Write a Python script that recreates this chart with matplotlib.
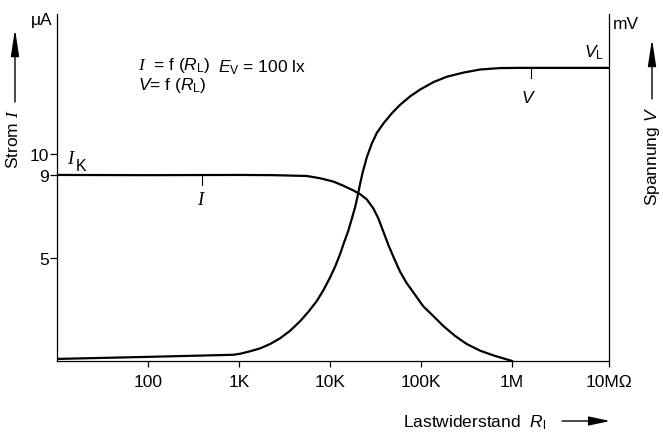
import matplotlib
matplotlib.use("Agg")
import matplotlib.pyplot as plt
from matplotlib import font_manager
from matplotlib.patches import FancyArrowPatch
from matplotlib.ticker import NullLocator
import numpy as np

# Strom I (uA) und Spannung V ueber dem Lastwiderstand R_L (Ohm), E_V = 100 lx
rCurrent = [10, 100, 1026, 2382, 3631, 5546, 7762, 10860, 14000, 18030, 21380,
            25290, 29920, 33960, 38550, 43750, 49660, 58750, 69660, 85900,
            105900, 136500, 175800, 236600, 317700, 444600, 623700, 950600, 1000000]
current = [9.00, 8.99, 9.00, 8.99, 8.97, 8.95, 8.84, 8.68, 8.48, 8.25, 8.07,
           7.82, 7.38, 6.89, 6.25, 5.61, 5.04, 4.32, 3.76, 3.20,
           2.64, 2.17, 1.69, 1.21, 0.82, 0.50, 0.27, 0.03, 0.0]

rVoltage = [10, 100, 859, 1026, 1321, 1702, 2193, 2825, 3631, 4677, 5781, 7145,
            8433, 10000, 11350, 12880, 14260, 15890, 17300, 18840, 19950, 21380,
            22860, 24270, 25290, 28710, 32580, 38550, 47640, 58750, 75680, 97500,
            136500, 191400, 291700, 444600, 738000, 1225000, 11600000]
voltage = [0.10, 0.20, 0.30, 0.35, 0.47, 0.61, 0.82, 1.10, 1.46, 1.92, 2.38, 2.90,
           3.42, 4.04, 4.56, 5.17, 5.74, 6.31, 6.87, 7.44, 7.92, 8.57,
           9.14, 9.55, 9.85, 10.51, 11.03, 11.49, 11.98, 12.39, 12.80, 13.13,
           13.49, 13.75, 13.95, 14.10, 14.17, 14.18, 14.18]

xTicks = [100, 1000, 10000, 100000, 1000000, 11600000]
xTickLabels = ["100", "1K", "10K", "100K", "1M", "10MΩ"]
yTicks = [5, 9, 10]
yTickLabels = ["5", "9", "10"]

W, H = 663, 435


def pickFont(names):
	for n in names:
		try:
			font_manager.findfont(font_manager.FontProperties(family=n), fallback_to_default=False)
			return n
		except ValueError:
			pass
	return "DejaVu Sans"


def px(x, y):
	# pixel position (from top left) -> figure fraction
	return (x / W, 1 - y / H)


fam = pickFont(["Liberation Sans Narrow", "Liberation Sans"])
fs = 13 if fam == "Liberation Sans Narrow" else 12.5
plt.rcParams['font.family'] = [fam, 'DejaVu Sans']
plt.rcParams['mathtext.fontset'] = 'custom'
plt.rcParams['mathtext.rm'] = fam
plt.rcParams['mathtext.it'] = fam + ':italic'
plt.rcParams['mathtext.cal'] = 'Liberation Serif:italic'

fig = plt.figure(figsize=(W / 100, H / 100), dpi=100)
ax = fig.add_axes([57 / W, (H - 362) / H, (609 - 57) / W, (362 - 14.7) / H])
ax.set_xscale('log')
ax.set_xlim(10, 11600000)
ax.set_ylim(0, 16.8)
ax.xaxis.set_minor_locator(NullLocator())
ax.set_xticks(xTicks)
ax.set_xticklabels(xTickLabels)
ax.set_yticks(yTicks)
ax.set_yticklabels(yTickLabels)
ax.tick_params(axis='x', direction='out', length=4.5, width=0.9, pad=5, labelsize=fs)
ax.tick_params(axis='y', direction='out', length=5, width=0.9, pad=1.0, labelsize=fs)
for s in ['top', 'right']:
	ax.spines[s].set_visible(False)
for s in ['left', 'bottom']:
	ax.spines[s].set_linewidth(0.9)

ax.plot(rCurrent, current, color='black', lw=1.6)

ax2 = ax.twinx()
ax2.set_ylim(0, 16.8)
ax2.set_yticks([])
for s in ['top', 'left', 'bottom']:
	ax2.spines[s].set_visible(False)
ax2.spines['right'].set_linewidth(0.9)
ax2.plot(rVoltage, voltage, color='black', lw=1.6)

# markers on the curves
rI = 390
yI = np.interp(np.log10(rI), np.log10(rCurrent), current)
ax.plot([rI, rI], [yI, yI - 0.5], color='black', lw=0.8)
ax.text(rI, 7.59, r"$\mathcal{I}$", ha='center', va='baseline', fontsize=fs + 1)
ax.text(13.0, 9.58, r"$\mathcal{I}$", ha='left', va='baseline', fontsize=fs + 1)
ax.annotate("K", (13.0, 9.58), xytext=(6, -5), textcoords='offset points',
            ha='left', va='baseline', fontsize=fs - 1)

rV = 1620000
yV = np.interp(np.log10(rV), np.log10(rVoltage), voltage)
ax2.plot([rV, rV], [yV, yV - 0.5], color='black', lw=0.8)
ax2.text(1500000, 12.55, r"$V$", ha='center', va='baseline', fontsize=fs)
ax2.text(10200000, 14.75, r"$V_\mathrm{L}$", ha='right', va='baseline', fontsize=fs)

# units and axis titles
fig.text(*px(52, 25), "μA", ha='right', va='baseline', fontsize=fs)
fig.text(*px(613, 29), "mV", ha='left', va='baseline', fontsize=fs)
fig.text(*px(13, 139), r"Strom $\mathcal{I}$", rotation=90, ha='center', va='center', fontsize=fs)
fig.text(*px(653, 157), r"Spannung $V$", rotation=90, ha='center', va='center', fontsize=fs)
fig.text(*px(403, 427), r"Lastwiderstand  $R_\mathrm{l}$", ha='left', va='baseline', fontsize=fs)

arrowUp = dict(arrowstyle='-|>,head_length=1.65,head_width=0.25', color='black',
               lw=1.0, mutation_scale=10, shrinkA=0, shrinkB=0)
fig.add_artist(FancyArrowPatch(px(15, 103), px(15, 30), transform=fig.transFigure, **arrowUp))
fig.add_artist(FancyArrowPatch(px(652, 100), px(652, 40), transform=fig.transFigure, **arrowUp))
arrowRight = dict(arrowstyle='-|>,head_length=1.3,head_width=0.28', color='black',
                  lw=1.0, mutation_scale=10, shrinkA=0, shrinkB=0)
fig.add_artist(FancyArrowPatch(px(562, 422), px(610, 422), transform=fig.transFigure, **arrowRight))

# formula block
fig.text(*px(138, 70), r"$\mathcal{I}$  = f ($R_\mathrm{L}$)", ha='left', va='baseline', fontsize=fs)
fig.text(*px(138, 90), r"$V$= f ($R_\mathrm{L}$)", ha='left', va='baseline', fontsize=fs)
fig.text(*px(218, 72), r"$E_\mathrm{V}$ = 100 lx", ha='left', va='baseline', fontsize=fs)

fig.savefig("out.png", dpi=100)
